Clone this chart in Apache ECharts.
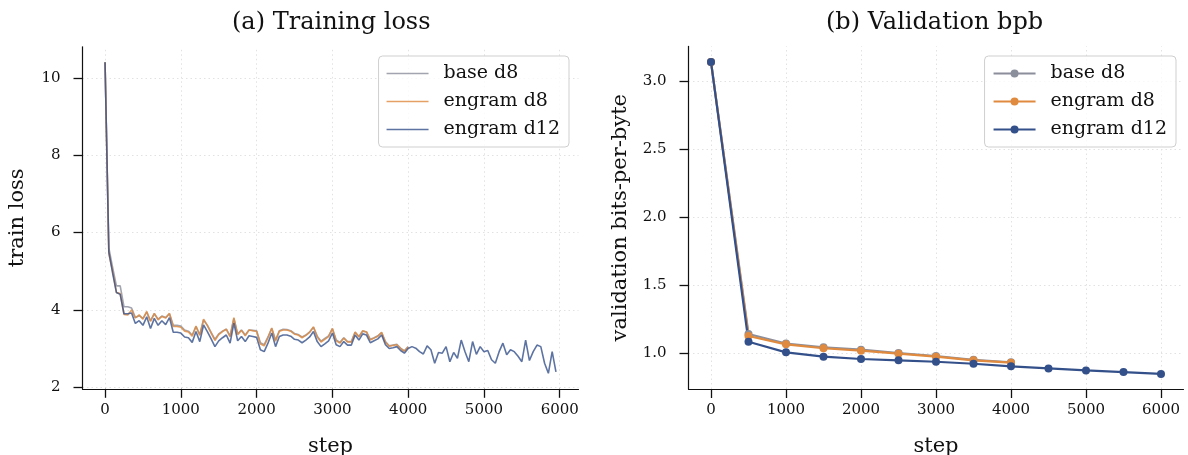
<!DOCTYPE html>
<html><head><meta charset="utf-8">
<script src="https://cdn.jsdelivr.net/npm/echarts@6/dist/echarts.min.js"></script>
<style>html,body{margin:0;padding:0;background:#fff}#c{width:1188px;height:455px}</style>
</head><body><div id="c"></div>
<script>
// ---- Data ----
const seriesNames = ['base d8', 'engram d8', 'engram d12'];
const trainStepSize = 50; // logging interval (steps)
const trainBaseD8 = [10.40,5.60,5.10,4.62,4.62,4.08,4.08,4.05,3.80,3.85,3.78,3.94,3.72,3.90,3.76,3.84,3.80,3.90,3.60,3.60,
 3.58,3.48,3.45,3.35,3.57,3.36,3.74,3.60,3.42,3.24,3.38,3.45,3.50,3.33,3.78,3.38,3.48,3.35,3.48,3.47,
 3.46,3.15,3.10,3.30,3.52,3.22,3.46,3.50,3.49,3.46,3.39,3.36,3.30,3.35,3.43,3.55,3.32,3.19,3.26,3.33,
 3.51,3.22,3.16,3.28,3.18,3.18,3.42,3.31,3.45,3.43,3.24,3.28,3.33,3.41,3.18,3.07,3.09,3.11,3.01,2.94,3.05];
const trainEngramD8 = [10.40,5.45,5.00,4.45,4.42,3.88,3.87,4.00,3.79,3.87,3.76,3.96,3.70,3.91,3.74,3.83,3.79,3.91,3.57,3.57,
 3.55,3.45,3.43,3.32,3.58,3.34,3.76,3.60,3.40,3.21,3.36,3.44,3.50,3.30,3.80,3.36,3.47,3.33,3.48,3.46,
 3.44,3.12,3.07,3.28,3.53,3.19,3.45,3.48,3.48,3.45,3.37,3.35,3.28,3.34,3.42,3.56,3.30,3.17,3.24,3.31,
 3.52,3.20,3.14,3.27,3.17,3.17,3.43,3.30,3.46,3.43,3.22,3.27,3.32,3.42,3.16,3.06,3.08,3.10,3.00,2.93,3.04];
const trainEngramD12 = [10.40,5.50,4.95,4.45,4.40,3.90,3.90,3.92,3.65,3.72,3.60,3.82,3.52,3.78,3.60,3.72,3.62,3.80,3.42,3.42,
 3.40,3.30,3.28,3.16,3.44,3.18,3.61,3.44,3.25,3.05,3.20,3.28,3.35,3.14,3.66,3.20,3.31,3.18,3.33,3.31,
 3.29,2.97,2.92,3.14,3.40,3.05,3.31,3.35,3.35,3.32,3.24,3.22,3.15,3.22,3.30,3.44,3.18,3.05,3.12,3.20,
 3.40,3.10,3.05,3.18,3.09,3.09,3.35,3.22,3.38,3.35,3.15,3.20,3.25,3.35,3.10,3.00,3.02,3.05,2.95,2.88,
 3.00,3.05,3.01,2.92,2.86,3.07,2.97,2.62,2.90,2.88,3.05,2.66,2.90,2.75,3.22,2.92,2.66,3.18,2.85,3.05,
 2.92,2.95,2.71,2.62,2.92,3.14,2.84,2.97,2.92,2.80,2.66,3.22,2.69,2.92,3.09,3.05,2.62,2.36,2.92,2.40];
const valSteps = [0,500,1000,1500,2000,2500,3000,3500,4000,4500,5000,5500,6000];
const valBaseD8 = [3.14,1.14,1.07,1.042,1.025,1.0,0.978,0.950,0.932];
const valEngramD8 = [3.14,1.125,1.064,1.035,1.017,0.995,0.973,0.946,0.929];
const valEngramD12 = [3.14,1.083,1.005,0.973,0.956,0.946,0.936,0.921,0.902,0.887,0.872,0.860,0.846];
const stepTicks = [0,1000,2000,3000,4000,5000,6000];
const lossTicks = [2,4,6,8,10];
const bpbTicks = [1.0,1.5,2.0,2.5,3.0];

// ---- Build ----
const colors = ['#8b8e9b', '#df8a3e', '#34508a'];
const FONT = 'DejaVu Serif';
const pairsFromInterval = arr => arr.map((v, i) => [i * trainStepSize, v]);
const pairsFromSteps = (steps, arr) => arr.map((v, i) => [steps[i], v]);

function xAxis(gridIndex, min, max) {
  return {
    type: 'value', gridIndex, min, max,
    name: 'step', nameLocation: 'middle', nameGap: 47,
    nameTextStyle: { fontFamily: FONT, fontSize: 21, color: '#111' },
    axisLine: { show: true, onZero: false, lineStyle: { color: '#111', width: 1.2 } },
    axisTick: { show: true, length: 9, customValues: stepTicks, lineStyle: { color: '#111', width: 1.3 } },
    axisLabel: { customValues: stepTicks, fontFamily: FONT, fontSize: 15, color: '#111', margin: 14, formatter: v => String(v) },
    splitLine: { show: false }
  };
}
function yAxis(gridIndex, min, max, ticks, name, gap, fmt) {
  return {
    type: 'value', gridIndex, min, max,
    name, nameLocation: 'middle', nameGap: gap,
    nameTextStyle: { fontFamily: FONT, fontSize: 21, color: '#111' },
    axisLine: { show: true, onZero: false, lineStyle: { color: '#111', width: 1.2 } },
    axisTick: { show: true, length: 9, customValues: ticks, lineStyle: { color: '#111', width: 1.3 } },
    axisLabel: { customValues: ticks, fontFamily: FONT, fontSize: 15, color: '#111', margin: 22, formatter: fmt },
    splitLine: { show: false }
  };
}

// dotted grid lines drawn through the axes' scales
function gridSeries(idx, xTicks, yTicks) {
  return {
    type: 'line', name: '__grid' + idx, xAxisIndex: idx, yAxisIndex: idx, z: 0, zlevel: 0,
    data: [], symbol: 'none', silent: true, animation: false,
    markLine: {
      silent: true, symbol: 'none', animation: false, label: { show: false }, z: 0,
      lineStyle: { color: '#e2e2e2', type: [1.5, 3], width: 1 },
      emphasis: { disabled: true },
      data: xTicks.map(v => ({ xAxis: v })).concat(yTicks.map(v => ({ yAxis: v })))
    }
  };
}

const trainData = [trainBaseD8, trainEngramD8, trainEngramD12];
const valData = [valBaseD8, valEngramD8, valEngramD12];

const series = [gridSeries(0, stepTicks, lossTicks), gridSeries(1, stepTicks, bpbTicks)];
trainData.forEach((d, i) => series.push({
  type: 'line', name: seriesNames[i], xAxisIndex: 0, yAxisIndex: 0, z: 3,
  data: pairsFromInterval(d), symbol: 'none', silent: true, animation: false,
  lineStyle: { color: colors[i], width: 1.6, opacity: 0.8 }, itemStyle: { color: colors[i], opacity: 0.8 }
}));
valData.forEach((d, i) => series.push({
  type: 'line', name: seriesNames[i] + ' ', xAxisIndex: 1, yAxisIndex: 1, z: 3,
  data: pairsFromSteps(valSteps, d), symbol: 'circle', symbolSize: 8, silent: true, animation: false,
  lineStyle: { color: colors[i], width: 2.2 }, itemStyle: { color: colors[i] }
}));

const legendCommon = {
  orient: 'vertical', top: 56, itemWidth: 42, itemGap: 9,
  padding: [8, 9, 8, 8], borderColor: '#cfcfcf', borderWidth: 1, borderRadius: 4,
  backgroundColor: 'rgba(255,255,255,0.8)',
  textStyle: { fontFamily: FONT, fontSize: 19, color: '#111', lineHeight: 19, padding: [0, 0, 0, 10] },
  formatter: n => n.trim(), selectedMode: false
};

const chart = echarts.init(document.getElementById('c'), null, { renderer: 'canvas' });
chart.setOption({
  animation: false,
  backgroundColor: '#fff',
  title: [
    { text: '(a) Training loss', left: 227, top: 6, textStyle: { fontFamily: FONT, fontSize: 24, fontWeight: 'normal', color: '#111' } },
    { text: '(b) Validation bpb', left: 821, top: 6, textStyle: { fontFamily: FONT, fontSize: 24, fontWeight: 'normal', color: '#111' } }
  ],
  grid: [
    { left: 82.5, width: 496, top: 46.8, height: 342, containLabel: false, outerBoundsMode: 'none' },
    { left: 688.5, width: 495, top: 46.4, height: 342.6, containLabel: false, outerBoundsMode: 'none' }
  ],
  xAxis: [xAxis(0, -297.5, 6247.5), xAxis(1, -300, 6300)],
  yAxis: [
    yAxis(0, 1.96, 10.8, lossTicks, 'train loss', 54, v => String(v)),
    yAxis(1, 0.7355, 3.2545, bpbTicks, 'validation bits-per-byte', 57, v => v.toFixed(1))
  ],
  legend: [
    Object.assign({}, legendCommon, { right: 1188 - 569, itemHeight: 1.6, icon: 'rect', data: seriesNames }),
    Object.assign({}, legendCommon, { right: 1188 - 1176, itemHeight: 10, data: seriesNames.map(n => n + ' ') })
  ],
  series
});
</script></body></html>
